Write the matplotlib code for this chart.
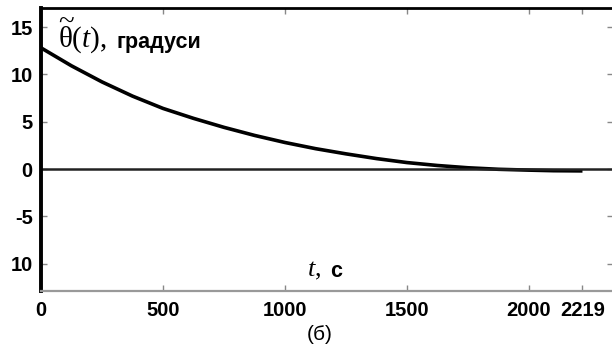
import numpy as np
import matplotlib
matplotlib.use('Agg')
import matplotlib.pyplot as plt

plt.rcParams['mathtext.fontset'] = 'custom'
plt.rcParams['mathtext.rm'] = 'Liberation Serif'
plt.rcParams['mathtext.it'] = 'Liberation Serif:italic'

# отклонение угла, градусы
t = [0, 125, 250, 375, 500, 625, 750, 875, 1000, 1125, 1250, 1375, 1500,
     1625, 1750, 1875, 2000, 2100, 2219]
theta = [12.8, 10.9, 9.2, 7.7, 6.4, 5.35, 4.4, 3.55, 2.8, 2.15, 1.6, 1.1, 0.68,
         0.37, 0.13, -0.03, -0.12, -0.18, -0.2]

xticks = [0, 500, 1000, 1500, 2000, 2219]
yticks = [15, 10, 5, 0, -5, -10]
ylabels = ['15', '10', '5', '0', '-5', '10']

fig = plt.figure(figsize=(6.12, 3.52), dpi=100)
ax = fig.add_axes([0.067, 0.173, 0.935, 0.804])

ax.plot(t, theta, color='black', lw=2.6, solid_capstyle='butt')
ax.axhline(0, color='#222222', lw=1.8)

ax.set_xlim(0, 2345)
ax.set_ylim(-12.9, 17)
ax.set_xticks(xticks)
ax.set_yticks(yticks)
ax.set_yticklabels(ylabels)
ax.tick_params(direction='in', length=4, width=1, color='#888888',
               top=True, right=True)
ax.tick_params(axis='x', pad=7)
ax.tick_params(axis='y', pad=6)
for lab in ax.get_xticklabels() + ax.get_yticklabels():
    lab.set_family('Liberation Sans')
    lab.set_weight('bold')
    lab.set_fontsize(14.5)

ax.spines['left'].set_linewidth(2.8)
ax.spines['top'].set_linewidth(2.0)
ax.spines['bottom'].set_linewidth(1.6)
ax.spines['bottom'].set_color('#999999')
ax.spines['right'].set_color('#999999')

# подпись оси y
ax.text(70, 12.8, r'$\widetilde{\mathrm{\theta}}(t),$', fontsize=21,
        va='baseline', ha='left')
ax.text(310, 12.8, 'градуси', fontsize=15.5, fontweight='bold',
        family='Liberation Sans', va='baseline', ha='left')

# подпись оси x
ax.text(1092, -11.4, r'$t,$', fontsize=19, va='baseline', ha='left')
ax.text(1185, -11.4, 'с', fontsize=15.5, fontweight='bold',
        family='Liberation Sans', va='baseline', ha='left')

fig.text(320 / 612, 1 - 335 / 352, '(б)', ha='center', va='center',
         fontsize=15, family='Liberation Sans')

fig.savefig('out.png', dpi=100)
